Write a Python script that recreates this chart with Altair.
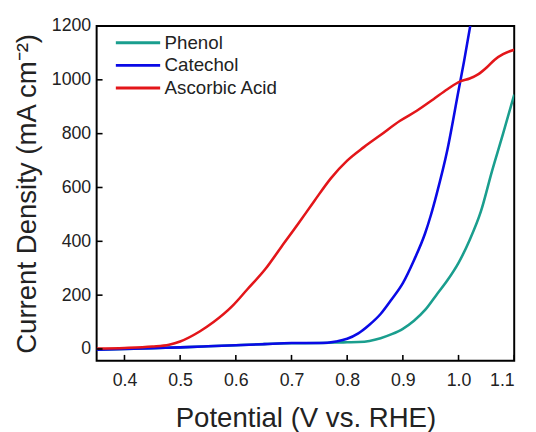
import altair as alt
import pandas as pd

phenol_x = [0.35,0.40,0.45,0.50,0.55,0.60,0.65,0.70,0.75,0.78,0.80,0.82,0.84,0.86,0.88,0.90,0.92,0.94,0.96,0.98,1.00,1.02,1.04,1.06,1.08,1.10]
phenol_y = [-3,0,3,6,10,14,18,21,22,24,25,26,30,40,55,75,105,145,200,255,320,405,510,660,800,945]

catechol_x = [0.35,0.40,0.45,0.50,0.55,0.60,0.65,0.70,0.75,0.78,0.80,0.82,0.84,0.86,0.88,0.90,0.92,0.94,0.95,0.96,0.98,1.00,1.01,1.021]
catechol_y = [-3,0,3,6,10,14,18,22,22,28,38,58,90,130,185,245,330,430,495,570,740,960,1070,1200]

ascorbic_x = [0.35,0.40,0.45,0.48,0.50,0.535,0.56,0.594,0.62,0.653,0.682,0.712,0.741,0.771,0.80,0.83,0.86,0.895,0.925,0.955,0.98,1.004,1.02,1.035,1.05,1.065,1.08,1.10]
ascorbic_y = [2,4,9,16,28,65,100,160,220,297,380,465,550,635,700,750,795,848,885,928,965,995,1005,1020,1045,1075,1095,1112]

series = ["Phenol", "Catechol", "Ascorbic Acid"]
colors = ["#1a9e8e", "#0a0ae6", "#e3161a"]

x_ticks = [0.4, 0.5, 0.6, 0.7, 0.8, 0.9, 1.0, 1.1]
y_ticks = [0, 200, 400, 600, 800, 1000, 1200]

rows = []
for name, xs, ys in [("Phenol", phenol_x, phenol_y), ("Catechol", catechol_x, catechol_y), ("Ascorbic Acid", ascorbic_x, ascorbic_y)]:
    for i, (a, b) in enumerate(zip(xs, ys)):
        rows.append({"series": name, "V": a, "J": b, "order": i})
df = pd.DataFrame(rows)

W, H = 424, 340
font = "Liberation Sans"

xscale = alt.Scale(domain=[0.35, 1.1], nice=False)
yscale = alt.Scale(domain=[-44, 1200], nice=False)

lines = alt.Chart(df).mark_line(strokeWidth=2.6, clip=True, interpolate="monotone").encode(
    x=alt.X("V:Q", scale=xscale,
            axis=alt.Axis(title="Potential (V vs. RHE)", values=x_ticks, format=".1f", ticks=False,
                          labelFontSize=18, labelPadding=11, titleFontSize=28, titleFontWeight="normal",
                          titlePadding=16, domain=False, grid=False, labelColor="#222", titleColor="#222")),
    y=alt.Y("J:Q", scale=yscale,
            axis=alt.Axis(title="Current Density (mA cm⁻²)", values=y_ticks, format="d", ticks=False,
                          labelFontSize=18, labelPadding=6, titleFontSize=28, titleFontWeight="normal",
                          titlePadding=10, domain=False, grid=False, labelColor="#222", titleColor="#222")),
    color=alt.Color("series:N", scale=alt.Scale(domain=series, range=colors), sort=series,
                    legend=alt.Legend(title=None, orient="none", legendX=18, legendY=7,
                                      symbolType="stroke", symbolSize=2025, symbolStrokeWidth=3,
                                      clipHeight=20, rowPadding=3, padding=0,
                                      labelFontSize=19, labelColor="#222", labelOffset=3)),
    detail="series:N",
    order="order:Q",
)

xt = pd.DataFrame({"t": x_ticks})
yt = pd.DataFrame({"t": y_ticks})
xtick_marks = alt.Chart(xt).mark_rule(color="black", strokeWidth=1.6).encode(
    x=alt.X("t:Q", scale=xscale), y=alt.value(H), y2=alt.value(H - 6))
ytick_marks = alt.Chart(yt).mark_rule(color="black", strokeWidth=1.6).encode(
    y=alt.Y("t:Q", scale=yscale), x=alt.value(0), x2=alt.value(6))

chart = alt.layer(lines, xtick_marks, ytick_marks).properties(
    width=W, height=H,
    autosize=alt.AutoSizeParams(type="none"),
    padding={"left": 90, "top": 15, "right": 14, "bottom": 69},
).configure(font=font).configure_view(stroke="black", strokeWidth=2)

chart.save("out.html", embed_options={"renderer": "svg", "actions": False})
